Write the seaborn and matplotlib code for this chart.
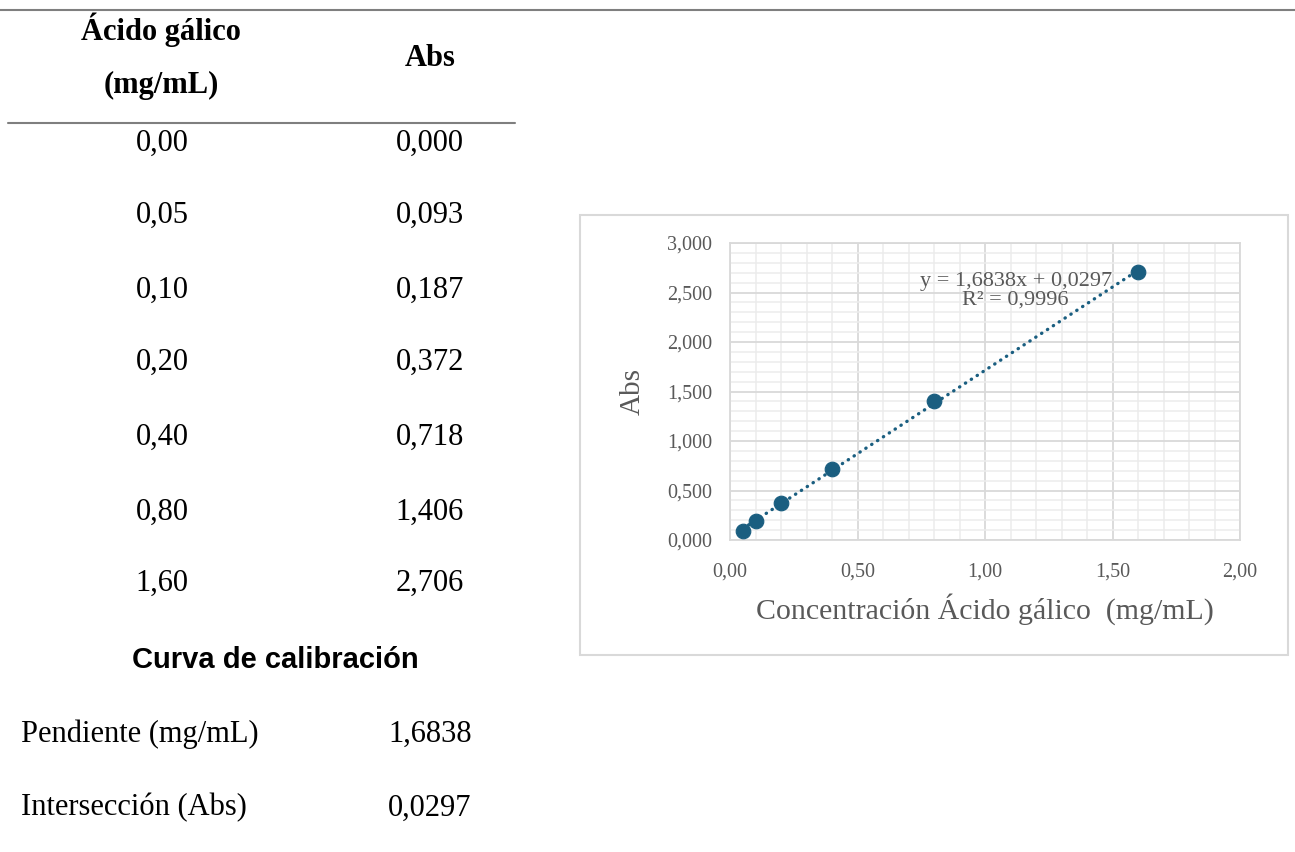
import numpy as np
import matplotlib
matplotlib.use("Agg")
import matplotlib.pyplot as plt
import matplotlib.ticker as mticker
from matplotlib.patches import Rectangle
from matplotlib.lines import Line2D
import seaborn as sns

# calibration data (gallic acid)
conc = [0.00, 0.05, 0.10, 0.20, 0.40, 0.80, 1.60]
absorb = [0.000, 0.093, 0.187, 0.372, 0.718, 1.406, 2.706]
slope = 1.6838
intercept = 0.0297
r2 = 0.9996

sns.set_style("white")
plt.rcParams['font.family'] = ['Liberation Serif', 'DejaVu Serif']
plt.rcParams['text.color'] = 'black'

W, H = 1295, 852
fig = plt.figure(figsize=(W / 100, H / 100), dpi=100)


def fx(px):
    return px / W


def fy(py):
    return 1 - py / H


def comma(v, nd):
    return f"{v:.{nd}f}".replace('.', ',')


# ---- table on the left ----
fig.add_artist(Line2D([0, 1], [fy(10), fy(10)], color='#7f7f7f', lw=1.5))
fig.add_artist(Line2D([fx(8), fx(515)], [fy(123), fy(123)], color='#7f7f7f', lw=1.5))

fig.text(fx(161), fy(30), 'Ácido gálico', ha='center', va='center', fontsize=22, fontweight='bold')
fig.text(fx(161), fy(85), '(mg/mL)', ha='center', va='center', fontsize=22, fontweight='bold')
fig.text(fx(430), fy(58), 'Abs', ha='center', va='center', fontsize=22, fontweight='bold')

row_y = [143, 215, 290, 362, 437, 512, 583]
for c, a, yy in zip(conc, absorb, row_y):
    fig.text(fx(162), fy(yy), comma(c, 2), ha='center', va='center', fontsize=22)
    fig.text(fx(430), fy(yy), comma(a, 3), ha='center', va='center', fontsize=22)

fig.text(fx(275), fy(660), 'Curva de calibración', ha='center', va='center',
         fontsize=21, fontweight='bold', family=['Liberation Sans', 'DejaVu Sans'])
fig.text(fx(21), fy(734), 'Pendiente (mg/mL)', ha='left', va='center', fontsize=22)
fig.text(fx(430), fy(734), comma(slope, 4), ha='center', va='center', fontsize=22)
fig.text(fx(21), fy(808), 'Intersección (Abs)', ha='left', va='center', fontsize=22)
fig.text(fx(430), fy(808), comma(intercept, 4), ha='center', va='center', fontsize=22)

# ---- chart box ----
fig.add_artist(Rectangle((fx(580), fy(655)), fx(1288) - fx(580), fy(215) - fy(655),
                         transform=fig.transFigure, fill=False, edgecolor='#d9d9d9', lw=1.5))

ax = fig.add_axes([fx(730), fy(540), fx(1240) - fx(730), fy(243) - fy(540)])
color = '#1a5e80'
gray = '#595959'

# Excel chart skips the 0,00 point
xs = conc[1:]
ys = absorb[1:]
xl = np.array([min(xs), max(xs)])
sns.lineplot(x=xl, y=slope * xl + intercept, ax=ax, color=color, lw=2.4,
             linestyle=(0, (0.1, 2.0)), dash_capstyle='round', zorder=2)
sns.scatterplot(x=xs, y=ys, ax=ax, color=color, s=110, edgecolor=color, zorder=3)

ax.set_xlim(0, 2)
ax.set_ylim(0, 3)
ax.xaxis.set_major_locator(mticker.MultipleLocator(0.5))
ax.yaxis.set_major_locator(mticker.MultipleLocator(0.5))
ax.xaxis.set_minor_locator(mticker.MultipleLocator(0.1))
ax.yaxis.set_minor_locator(mticker.MultipleLocator(0.1))
ax.xaxis.set_major_formatter(mticker.FuncFormatter(lambda v, p: comma(v, 2)))
ax.yaxis.set_major_formatter(mticker.FuncFormatter(lambda v, p: comma(v, 3)))
ax.grid(which='major', color='#d9d9d9', lw=1.3)
ax.grid(which='minor', color='#ececec', lw=1.1)
ax.set_axisbelow(True)
for s in ax.spines.values():
    s.set_color('#d9d9d9')
    s.set_linewidth(1.3)
ax.tick_params(which='both', length=0)
ax.tick_params(axis='y', pad=13, labelsize=14.5, labelcolor=gray)
ax.tick_params(axis='x', pad=16, labelsize=14.5, labelcolor=gray)

ax.set_xlabel('Concentración Ácido gálico  (mg/mL)', fontsize=21.5, color=gray)
ax.set_ylabel('Abs', fontsize=21, color=gray)
ax.xaxis.set_label_coords(0.5, -0.18)
ax.yaxis.set_label_coords(-0.165, 0.5)

ax.text(1.12, 2.52, f"y = {comma(slope, 4)}x + {comma(intercept, 4)}\nR² = {comma(r2, 4)}",
        ha='center', va='center', fontsize=16, color=gray, linespacing=0.95)

fig.savefig('out.png', dpi=100)
